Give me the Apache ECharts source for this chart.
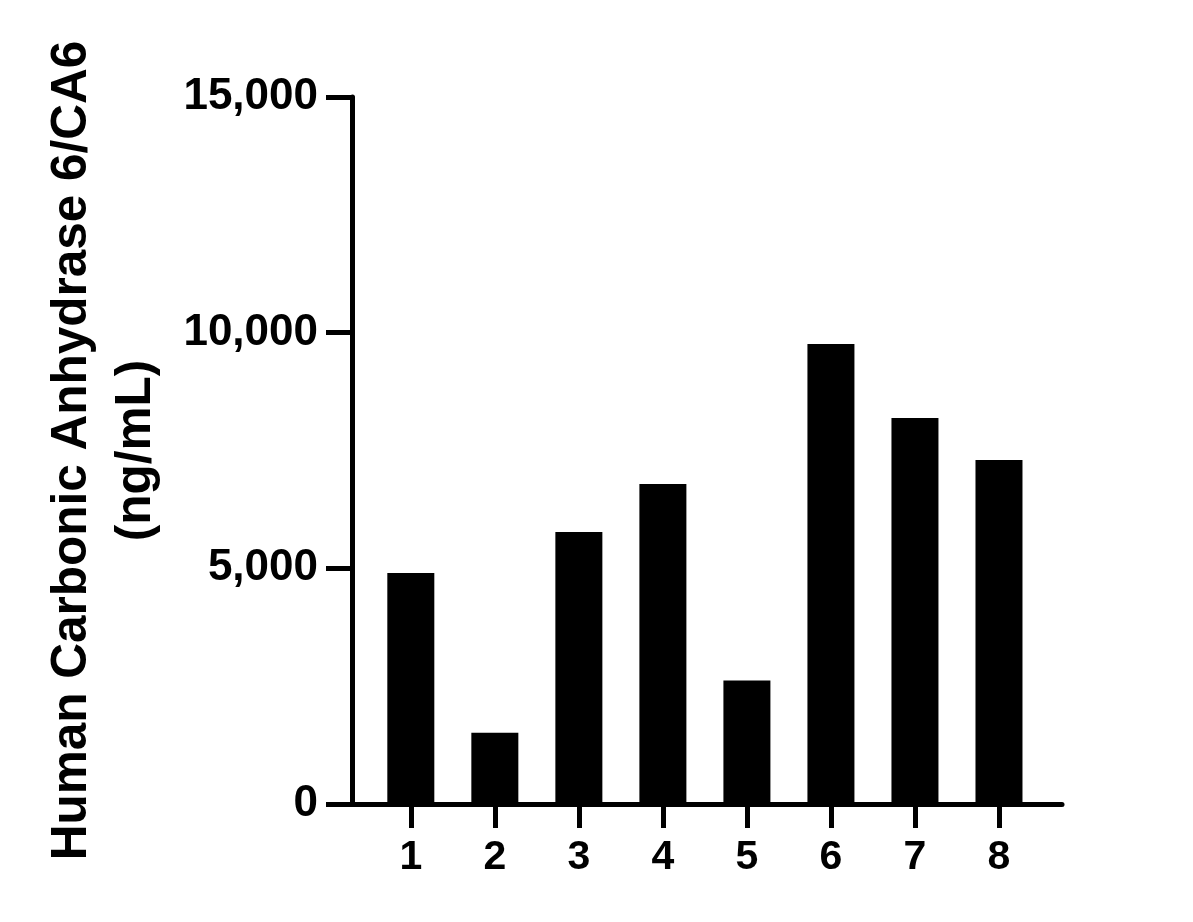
<!DOCTYPE html>
<html>
<head>
<meta charset="utf-8">
<script src="https://cdn.jsdelivr.net/npm/echarts@6/dist/echarts.min.js"></script>
<style>
html,body{margin:0;padding:0;background:#fff;}
#chart{width:1193px;height:922px;}
</style>
</head>
<body>
<div id="chart"></div>
<script>
var categories = [1, 2, 3, 4, 5, 6, 7, 8];
var values = [4900, 1510, 5770, 6790, 2620, 9760, 8190, 7300];
var yTicks = [0, 5000, 10000, 15000];
var yTitle = 'Human Carbonic Anhydrase 6/CA6\n(ng/mL)';

var chart = echarts.init(document.getElementById('chart'), null, {renderer: 'canvas'});
var font = '"Liberation Sans", Arial, sans-serif';
chart.setOption({
  animation: false,
  backgroundColor: '#fff',
  grid: {left: 352, right: 131, top: 97, bottom: 118, containLabel: false, outerBoundsMode: 'none'},
  xAxis: {
    type: 'value',
    min: 0.3,
    max: 8.75,
    splitLine: {show: false},
    axisLine: {show: true, lineStyle: {color: '#000', width: 5}},
    axisTick: {show: true, customValues: categories, length: 24, lineStyle: {color: '#000', width: 5}},
    axisLabel: {customValues: categories, color: '#000', fontFamily: font, fontWeight: 'bold', fontSize: 41, margin: 33}
  },
  yAxis: {
    type: 'value',
    min: 0,
    max: 15000,
    interval: 5000,
    name: yTitle,
    nameLocation: 'middle',
    nameGap: 184,
    nameRotate: 90,
    nameTextStyle: {color: '#000', fontFamily: font, fontWeight: 'bold', fontSize: 49.5, lineHeight: 64, align: 'center'},
    splitLine: {show: false},
    axisLine: {show: true, lineStyle: {color: '#000', width: 5}},
    axisTick: {show: true, length: 26, lineStyle: {color: '#000', width: 5}},
    axisLabel: {color: '#000', fontFamily: font, fontWeight: 'bold', fontSize: 44, margin: 34,
      formatter: function (v) { return v.toLocaleString('en-US'); }}
  },
  series: [{
    type: 'bar',
    barWidth: 47,
    itemStyle: {color: '#000'},
    data: categories.map(function (c, i) { return [c, values[i]]; })
  }]
});
</script>
</body>
</html>
